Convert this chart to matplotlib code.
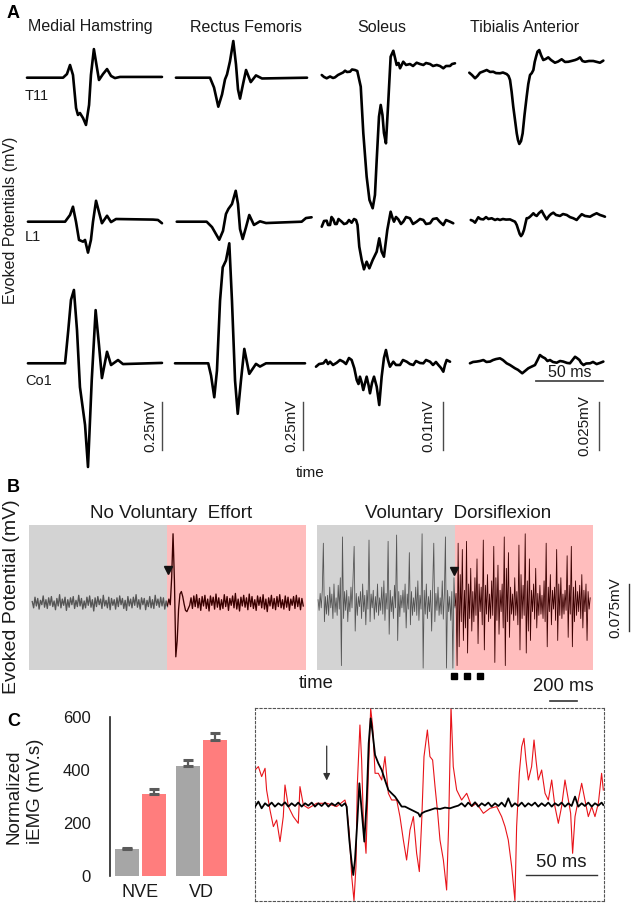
import numpy as np
import matplotlib
matplotlib.use("Agg")
import matplotlib.pyplot as plt

plt.rcParams['font.family'] = ['Liberation Sans', 'DejaVu Sans']

# ======================= DATA =======================
# ---- Panel A: evoked potentials (time in ms, amplitude in microvolts) ----
muscles = ["Medial Hamstring", "Rectus Femoris", "Soleus", "Tibialis Anterior"]
sites = ["T11", "L1", "Co1"]
scale_uv = [250, 250, 10, 25]
scale_labels = ["0.25mV", "0.25mV", "0.01mV", "0.025mV"]

mh_t11_t = [0, 26.9, 29.8, 32.1, 34.3, 36.6, 38.0, 39.5, 41.8, 44.0, 46.3, 47.7, 49.9, 52.2, 53.7, 56.7, 59.7, 62.7, 65.6, 69.4, 100.7]
mh_t11_v = [0, 0, 19, 66, 14, -158, -194, -184, -210, -246, -142, 14, 149, 51, -12, 19, 45, 9, -2, 4, 4]
mh_l1_t = [0.7, 28.4, 32.1, 34.3, 36.6, 38.8, 41.8, 43.3, 45.5, 47.7, 49.2, 51.5, 53.7, 55.9, 59.7, 62.7, 66.4, 94.0, 97.7, 100.7]
mh_l1_v = [0, 0, 35, 78, -2, -95, -104, -95, -161, -95, -2, 109, 50, -8, 31, -2, 14, 11, 9, -8]
mh_co1_t = [0.7, 28.4, 30.8, 32.8, 35.0, 37.3, 39.5, 43.3, 45.5, 48.3, 51.2, 53.7, 55.9, 59.7, 62.7, 67.9, 71.6, 100.7]
mh_co1_v = [0, 0, 173, 330, 382, 173, -124, -321, -540, -87, 277, 95, -77, 60, -9, 17, -4, 2]

rf_t11_t = [0.7, 26.1, 29.1, 32.3, 35.1, 37.3, 38.8, 41.0, 43.5, 45.5, 47.0, 48.5, 50.7, 53.0, 56.5, 60.4, 64.9, 98.5]
rf_t11_v = [0, 0, -51, -151, -87, -9, 17, 85, 191, 69, -61, -109, -35, 40, -23, 12, -4, 0]
rf_l1_t = [1.3, 23.6, 27.6, 33.0, 35.8, 38.0, 39.8, 42.5, 45.3, 47.0, 48.5, 50.5, 53.0, 55.4, 58.9, 63.4, 67.9, 94.5, 97.7, 101.9]
rf_l1_v = [0, 0, -28, -94, -48, 40, 66, 92, 161, 92, -38, -90, -28, 35, -17, 2, -7, 0, 19, 23]
rf_co1_t = [0, 24.8, 26.9, 29.3, 31.3, 33.6, 35.6, 38.0, 40.5, 42.5, 44.8, 46.8, 49.2, 51.7, 55.4, 60.4, 63.4, 67.9, 97.0]
rf_co1_v = [0, 0, -64, -177, -38, 326, 500, 535, 625, 326, -90, -263, -90, 75, -55, -3, -17, 0, 0]

sol_t11_t = [1.3, 3.0, 5.0, 7.5, 9.7, 11.2, 13.4, 14.9, 17.2, 18.7, 20.1, 22.4, 23.9, 26.1, 27.8, 30.4, 32.3, 34.8, 36.9, 39.3,
             41.0, 42.3, 44.0, 45.3, 46.6, 47.7, 49.2, 51.0, 52.7, 54.7, 56.0, 57.2, 58.6, 59.7, 62.1, 64.2, 67.1, 69.4, 72.1, 74.6,
             77.1, 79.1, 82.1, 84.3, 87.1, 89.5, 92.0, 94.0, 97.0, 98.5, 100.7]
sol_t11_v = [0.56, 0.15, -0.12, 0.25, -0.06, 0.08, 0.56, 0.77, 1.08, 1.46, 1.19, 1.25, 1.71, 1.60, 1.40, -1.87, -11.52, -20.62, -25.47, -27.20,
             -24.43, -17.14, -8.12, -5.68, -7.77, -11.52, -13.67, -4.65, 4.37, 5.62, 4.10, 2.65, 3.06, 1.96, 3.33, 2.65, 2.85, 2.44, 3.12, 2.85,
             2.65, 3.06, 2.85, 2.44, 2.65, 2.44, 1.96, 2.44, 2.44, 2.85, 3.0]
sol_l1_t = [1.3, 3.0, 5.0, 6.0, 7.5, 8.6, 9.9, 11.2, 12.5, 13.8, 16.2, 17.9, 19.9, 21.6, 23.6, 25.4, 26.9, 28.0, 29.3, 31.1,
            32.8, 34.8, 36.8, 39.3, 42.3, 44.2, 46.0, 47.7, 50.2, 52.7, 54.1, 55.2, 56.7, 58.4, 60.4, 62.1, 64.2, 67.1, 69.4, 72.1,
            74.6, 77.1, 79.1, 82.1, 84.3, 87.1, 89.5, 92.0, 94.0, 97.0, 99.4]
sol_l1_v = [-1.04, 0.15, 0.21, -0.69, -0.69, 0.98, 0.50, -0.48, -0.48, 0.56, 0, -0.48, -0.33, 0.35, -0.21, 0.56, 0.35, -0.69, -5.21, -7.98,
            -9.92, -8.33, -9.71, -7.98, -6.25, -3.46, -6.25, -7.29, -1.73, 2.08, 0.77, 0, 0.98, 0.50, -0.48, 0, 0.98, 0.71, -0.48, 0,
            0.56, 0.35, -0.48, -0.33, 0.56, 0.71, -0.06, -0.69, 0.35, 0, -0.33]
sol_co1_t = [-3.0, -0.7, 2.5, 4.5, 6.0, 7.5, 9.7, 12.5, 14.9, 17.4, 19.4, 21.6, 23.6, 25.6, 27.4, 28.7, 29.8, 31.0, 32.3, 34.8,
             36.2, 37.3, 38.8, 40.3, 42.3, 44.2, 46.0, 47.7, 49.2, 50.7, 52.2, 54.7, 56.7, 59.7, 61.9, 64.7, 67.1, 69.6, 71.6, 74.6,
             77.1, 79.1, 82.1, 84.3, 86.5, 88.3, 90.3, 92.0, 93.2, 94.5, 97.0]
sol_co1_v = [-0.71, -0.15, 0, 0.69, -0.15, 0.33, -0.35, 0.12, 0.69, 0.33, -0.15, 1.10, 0.69, -1.04, -3.48, -4.31, -2.79, -3.90, -5.56, -2.79,
             -4.52, -6.25, -4.10, -2.79, -4.87, -8.69, -2.79, 1.10, 2.77, 0.69, -0.71, 0.33, -0.35, -0.35, 0.69, 0.33, -0.15, -0.35, 0.48, 0.06,
             0, 0.69, 0.33, -0.35, 0.27, -0.35, -0.98, -1.75, -0.35, 0.69, 0.33]

ta_t11_t = [3.2, 5.2, 7.5, 9.3, 11.2, 13.4, 16.2, 18.7, 21.1, 23.1, 26.1, 28.3, 31.1, 32.5, 33.6, 34.8, 36.0, 37.3, 38.6, 39.5,
            40.5, 41.8, 43.0, 44.4, 46.0, 47.2, 48.5, 49.8, 51.0, 52.0, 53.0, 54.1, 55.4, 56.7, 58.4, 60.1, 62.1, 64.2, 67.1, 69.4,
            72.1, 74.6, 77.1, 79.4, 82.1, 83.9, 85.8, 87.6, 89.5, 92.5, 95.7, 98.5, 100.7, 103.2]
ta_t11_v = [2.6, 1.4, -0.3, 0.9, 2.6, 3.2, 4.0, 3.0, 3.1, 2.4, 2.3, 2.7, 1.9, 0.9, -1.2, -7.4, -15.1, -22.0, -29.0, -32.4,
            -34.5, -33.0, -29.0, -19.4, -9.9, -3.3, 1.4, 2.4, 4.0, 8.2, 10.9, 13.6, 14.4, 11.8, 9.2, 9.7, 10.6, 9.2, 7.8, 8.4,
            9.6, 8.2, 8.3, 8.7, 9.2, 9.7, 10.6, 8.7, 8.3, 8.7, 8.7, 8.2, 7.8, 8.9]
ta_l1_t = [4.3, 6.0, 7.5, 8.7, 9.9, 11.6, 13.7, 15.7, 17.5, 19.9, 22.4, 24.2, 26.1, 28.3, 30.6, 33.6, 35.4, 37.3, 38.6, 39.8,
           40.8, 41.8, 42.9, 44.0, 45.0, 46.0, 47.2, 48.5, 49.8, 51.0, 52.2, 53.5, 55.2, 57.2, 58.9, 60.9, 62.7, 64.2, 65.9, 67.9,
           70.9, 73.1, 75.9, 78.3, 80.8, 83.3, 85.1, 87.1, 89.5, 93.3, 95.5, 98.2, 100.7, 102.9, 104.4]
ta_l1_v = [0.9, 0.4, -0.5, 0.9, 2.3, 1.4, 1.2, 2.4, 1.4, 1.8, 0.9, 1.4, 0.9, 1.4, 1.1, 1.2, 0.6, 0, -1.7, -4.3,
           -6.4, -7.5, -6.4, -4.3, -1.2, 1.8, 1.9, 2.6, 3.5, 4.4, 3.5, 3.0, 4.5, 5.7, 3.5, 1.2, 3.0, 4.0, 4.7, 3.5,
           3.0, 4.0, 3.5, 2.4, 1.8, 0.9, 2.4, 3.9, 3.0, 2.6, 3.5, 4.4, 3.5, 3.0, 2.6]
ta_co1_t = [3.7, 6.0, 8.7, 11.2, 13.7, 16.0, 18.7, 20.9, 23.1, 26.1, 28.3, 31.1, 33.6, 37.3, 39.5, 42.7, 44.8, 47.2, 49.2, 52.2,
            54.1, 55.9, 57.8, 59.7, 61.5, 63.4, 65.6, 68.4, 70.9, 73.3, 76.1, 78.3, 80.2, 82.1, 83.6, 85.4, 86.6, 88.4, 90.4, 93.3,
            95.5, 98.2, 100.7, 103.2]
ta_co1_v = [0, 0.7, 0.9, 1.2, 1.7, 0.7, 0.9, 1.7, 2.2, 2.6, 1.7, 0, -0.9, -2.6, -3.4, -5.2, -4.0, -2.6, -1.9, -0.9,
            1.7, 4.3, 3.3, 2.6, 1.2, 1.7, 0.7, 0.3, 1.2, 0.9, 0.2, 0, 1.7, 3.4, 2.7, 1.7, 0.2, -0.9, -0.1, 0,
            0.7, -0.4, 0.2, 0.9]

# ---- Panel B: continuous EMG (microvolts), 1024 ms before / after stimulation ----
conditions = ["No Voluntary  Effort", "Voluntary  Dorsiflexion"]
segment_ms = 1024
nve_pre = [2, -8, 9, -5, 7, -10, 4, -3, 11, -7, 5, -9, 8, -4, 10, -6, 3, -11, 7, -5, 13, -8, 6, -4, 9, -12, 5, -7, 8, -3,
           10, -9, 4, -6, 12, -5, 7, -10, 3, -8, 9, -4, 11, -7, 5, -13, 8, -6, 10, -3, 6, -9, 12, -5, 4, -8, 9, -11, 7, -4,
           5, -10, 8, -6, 11, -3, 7, -9, 4, -12, 10, -5, 6, -8, 9, -4, 13, -7, 5, -10, 8, -3, 7, -11, 4, -6, 10, -8, 5, -9,
           12, -4, 6, -7, 9, -5, 8, -10, 3, -6]
nve_post = [-4, 6, -3, 40, 110, 35, -86, -60, -10, 14, 18, 10, -2, -12, -14, -9, -4, 8, -9, 11, -6, 13, -8, 7, -12, 10, -5, 12, -9, 6,
            -13, 11, -4, 9, -10, 14, -7, 8, -11, 5, -9, 13, -6, 10, -12, 7, -4, 11, -8, 15, -10, 6, -13, 9, -5, 12, -7, 8, -11, 14,
            -6, 10, -9, 5, -12, 11, -4, 9, -8, 13, -10, 6, -14, 8, -5, 12, -9, 7, -11, 10, -6, 13, -8, 5, -10, 11, -7, 9, -12, 6,
            -4, 10, -9, 12, -6, 8, -11, 7, -5]
vd_pre = [5, -12, 15, -8, 20, 95, -30, 10, -18, 12, -20, 25, -8, 14, -25, 30, -15, 8, -20, 28,
          -10, 40, -100, 105, -25, 18, -12, 20, -30, 10, -14, 25, -8, 40, 90, -45, 15, -20, 10, -6,
          18, -25, 30, -14, 12, -35, 20, -10, 100, -30, 14, -8, 20, -26, 10, -15, 30, -20, 8, -12,
          25, -18, 35, -28, 15, -10, 98, -50, 20, -14, 10, -25, 28, -8, 108, -60, 18, -22, 12, -8,
          20, -15, 30, -40, 14, -10, 80, -35, 18, -20, 8, -14, 25, -20, 35, -28, 12, -10, 110, -104,
          20, -18, 30, -25, 10, -14, 20, -45, 28, 95, -30, 15, -12, 25, -20, 8, -18, 35, -26, 14,
          105, -104, 20, -14, 10, -28, 18, -104, 40, -8]
vd_post = [-5, 15, -100, 95, -70, 45, -30, 85, -60, 20, -40, 98, -80, 30, -25, 55, -45, 18, -30, 40,
           -20, 70, -65, 30, -14, 25, -35, 100, -75, 28, -18, 45, -30, 14, -25, 35, -20, 90, -95, 40,
           -28, 60, -50, 20, -14, 30, -40, 105, -100, 55, -30, 80, -55, 25, -18, 14, -28, 40, -20, 18,
           -35, 92, -75, 45, -25, 28, -20, 110, -80, 35, -45, 70, -60, 20, -14, 30, -26, 55, -40, 15,
           -20, 28, -18, 12, -25, 35, -30, 95, -70, 25, -14, 45, -35, 20, -10, 25, -28, 85, -60, 30,
           -20, 40, -25, 14, -18, 20, -12, 75, -55, 28, -18, 90, -70, 25, -30, 35, -20, 18, -14, 28,
           -25, 45, -40, 20, -14, 30, -60, 18, -10, 8]
window_starts_ms = [1013, 1112, 1210]

# ---- Panel C: normalized iEMG bars ----
groups = ["NVE", "VD"]
pre_iemg = [100, 413]
post_iemg = [309, 512]
pre_err = [6, 25]
post_err = [18, 28]

# ---- Panel C: overlaid responses (time ms, amplitude arbitrary units) ----
black_t = [0, 2.4, 4.7, 7.1, 9.4, 11.8, 14.1, 16.5, 18.9, 21.2, 23.6, 25.9, 28.3, 30.6, 33.0, 35.4, 37.7, 40.1, 42.4, 44.8,
           47.1, 49.5, 51.9, 54.2, 56.6, 58.9, 61.3, 63.6, 64.8, 66.7, 68.4, 69.5, 70.7, 72.4, 73.8, 75.4, 77.3, 79.0, 80.4,
           81.8, 83.2, 84.9, 87.2, 89.6, 91.9, 94.3, 96.6, 99.0, 101.4, 103.7, 106.1, 108.4, 110.8, 113.1, 115.5, 116.7, 117.9,
           120.2, 123.7, 127.3, 130.8, 134.3, 137.9, 141.4, 143.8, 146.1, 148.5, 150.8, 153.2, 155.6, 157.9, 160.3, 162.6, 165.0,
           167.3, 169.7, 172.1, 174.4, 176.8, 179.1, 181.5, 183.8, 186.2, 188.6, 190.9, 193.3, 195.6, 198.0, 200.3, 202.7, 205.1,
           207.4, 209.8, 212.1, 214.5, 216.8, 219.2, 221.6, 223.9, 226.3, 228.6, 231.0, 233.3, 235.7, 238.1, 240.4, 242.8, 245.1, 246.3]
black_v = [-2.3, 2.7, -4, 1, -1.7, 1.7, -2.3, 1, -1.3, 2, -2.3, 1, -1.7, 1.7, -2.3, 1, -1.3, 1.7, -2.3, 1,
           -1.7, 1.7, -2.3, 1, -1.3, 1.7, -1.7, 1, -2.3, -35.7, -59, -70.7, -55.7, -15.7, 21, -5.7, -37.3, 4.3, 61,
           86, 71, 49.3, 41, 34.3, 24.3, 14.3, 11, 7.7, 2.7, -2.3, -2.3, -4, -5.7, -7.3, -9, -12.3, -9,
           -7.3, -5.7, -4, -4.7, -3.3, -4, -2.3, -1.3, 1, -2.3, 1.7, -1.7, 2, -2.3, 1, -1.3, 1.7,
           -2.3, 1, -1.7, 1.7, -2.3, 6, -2.3, 1, -1.7, 1.7, -2.3, 1, -1.3, 1.7, -2.3, 1, -1.7,
           1.7, -2.3, 1, -1.3, 1.7, -2.3, 1, -1.7, 7.7, -2.3, 1, -1.7, 1.7, -2.3, 1, -1.3, 1.7, -0.7]
red_t = [0, 2.4, 4.7, 7.1, 8.2, 10.6, 13.0, 15.3, 17.7, 20.0, 21.2, 23.6, 27.1, 30.6, 31.8, 34.2, 37.7, 43.6, 50.7, 57.7,
         63.6, 64.8, 66.7, 68.4, 70.0, 71.4, 72.3, 74.2, 75.4, 76.6, 78.5, 80.1, 81.8, 83.2, 84.9, 87.2, 89.6, 91.9, 94.3, 96.6,
         100.2, 102.5, 104.9, 107.2, 109.6, 112.0, 114.3, 116.2, 117.9, 119.5, 121.9, 123.7, 125.6, 127.3, 129.2, 130.8, 133.2, 135.5, 136.9, 138.6,
         140.2, 142.6, 146.1, 149.7, 153.2, 156.7, 161.5, 166.2, 170.9, 174.4, 176.8, 179.1, 181.5, 183.8, 185.0, 186.9, 188.6, 190.2, 191.6, 193.3,
         195.6, 197.3, 198.7, 200.3, 202.7, 205.1, 207.4, 209.8, 212.1, 214.5, 216.8, 219.2, 221.6, 223.2, 224.6, 226.3, 228.6, 231.0, 233.3, 235.7,
         238.1, 240.4, 242.8, 245.1, 246.3]
red_v = [34.3, 37.7, 27.7, 36, 14.3, -5.7, -22.3, -15.7, -37.3, -12.3, 19.3, -2.3, -12.3, -19, 17.7, -0.7, -4, 1, 1, -2.3,
         4.3, -2.3, -29, -72.3, -96.3, -62.3, 17.7, 79.3, 44.3, -15.7, -49, 27.7, 96, 77.7, 31, 31, 24.3, 47.7, 11, 4.3,
         4.3, -12.3, -35.7, -55.7, -25.7, -12.3, -49, -67.3, -15.7, 47.7, 74.3, 47.7, 44.3, 17.7, -9, -35.7, -55.7, -85.7, -22.3, 97.7,
         37.7, 14.3, 4.3, 11, -2.3, 1, -9, -4, -2.3, -12.3, -22.3, -35.7, -62.3, -96.3, -22.3, 31, 57.7, 66, 44.3, 24.3,
         37.7, 64.3, 44.3, 24.3, 34.3, 11, 4.3, 24.3, -2.3, -19, -2.3, 24.3, 4.3, -9, -49, -12.3, 4.3, 21, 4.3, -12.3,
         -2.3, -12.3, 1, 31, 14.3]
stim_marker_ms = 50.7

# ======================= FIGURE =======================
W, H = 633, 906
fig = plt.figure(figsize=(W / 100, H / 100), dpi=100)


def px_rect(l, t, r, b):
    return [l / W, 1 - b / H, (r - l) / W, (b - t) / H]


def ftext(x, y, s, **kw):
    fig.text(x / W, 1 - y / H, s, **kw)


TXT = '#1a1a1a'

# ---------------- Panel A ----------------
traces = [[(mh_t11_t, mh_t11_v), (mh_l1_t, mh_l1_v), (mh_co1_t, mh_co1_v)],
          [(rf_t11_t, rf_t11_v), (rf_l1_t, rf_l1_v), (rf_co1_t, rf_co1_v)],
          [(sol_t11_t, sol_t11_v), (sol_l1_t, sol_l1_v), (sol_co1_t, sol_co1_v)],
          [(ta_t11_t, ta_t11_v), (ta_l1_t, ta_l1_v), (ta_co1_t, ta_co1_v)]]
ms_per_px = 0.746
col_x0 = [27, 175, 320, 465]
A_top, A_bot = 35, 470
row_base = [(A_bot - 77.7) / 48, (A_bot - 221.7) / 48, (A_bot - 363.3) / 48]
bar_t = [100.9, 95.7, 92.0, 99.7]
lab_off = [9.0, 8.7, 11.2, 10.4]
title_x = [90, 246, 382, 524.5]

for c in range(4):
    ax = fig.add_axes(px_rect(col_x0[c] - 10, A_top, col_x0[c] + 147, A_bot))
    ax.set_xlim(-10 * ms_per_px, 147 * ms_per_px)
    ax.set_ylim(0, (A_bot - A_top) / 48)
    ax.axis('off')
    for r in range(3):
        t, v = traces[c][r]
        n = min(len(t), len(v))
        ax.plot(t[:n], np.array(v[:n]) / scale_uv[c] + row_base[r], color='black',
                lw=1.9, solid_joinstyle='round', solid_capstyle='round', clip_on=False)
    ybar0 = (A_bot - 450) / 48
    ax.plot([bar_t[c], bar_t[c]], [ybar0, ybar0 + 1], color='#4a4a4a', lw=1.0)
    ax.text(bar_t[c] - lab_off[c], ybar0 + 0.5, scale_labels[c], rotation=90,
            ha='center', va='center', fontsize=11, color=TXT)
    ftext(title_x[c], 27, muscles[c], ha='center', va='center', fontsize=11.5, color=TXT)
    if c == 3:
        yb = (A_bot - 380.7) / 48
        ax.plot([53.2, 103.2], [yb, yb], color='#4a4a4a', lw=1.3, clip_on=False)
        ax.text(78.2, (A_bot - 372.5) / 48, "50 ms", ha='center', va='center', fontsize=11.5, color=TXT)

for s, y in zip(sites, [96.5, 237, 381]):
    ftext(25, y, s, ha='left', va='center', fontsize=10.5, color=TXT)

ftext(7, 13, "A", ha='left', va='center', fontsize=13, fontweight='bold')
ftext(11, 220, "Evoked Potentials (mV)", rotation=90, ha='center', va='center', fontsize=11.5, color=TXT)
ftext(310, 473, "time", ha='center', va='center', fontsize=11, color=TXT)

# ---------------- Panel B ----------------
B_top, B_bot = 525, 670
B_ylim = (-107, 124)
b_specs = [((29.3, 305.7), nve_pre, nve_post, 22, 2030, 1025, 53, 0.95),
           ((316.7, 593.3), vd_pre, vd_post, 10, 2025, 1017, 51, 0.6)]
axes_b = []
for (l, r), pre, post, t0, t1, stim, arr_v, lw in b_specs:
    ax = fig.add_axes(px_rect(l, B_top, r, B_bot))
    ax.set_xlim(0, 2 * segment_ms)
    ax.set_ylim(*B_ylim)
    ax.axvspan(0, segment_ms, color='#d3d3d3', lw=0)
    ax.axvspan(segment_ms, 2 * segment_ms, color='#ffbdbd', lw=0)
    ax.plot(np.linspace(t0, segment_ms, len(pre)), pre, color='#555555', lw=lw)
    ax.plot(np.linspace(segment_ms, t1, len(post)), post, color='#3a0000', lw=lw)
    ax.plot([stim], [arr_v], marker='v', color='#111111', ms=5.5, ls='none')
    ax.axis('off')
    axes_b.append(ax)

for name, tx in zip(conditions, [171, 458]):
    ftext(tx, 513, name, ha='center', va='center', fontsize=13.5, color=TXT)

axr = axes_b[1]
axr.plot(window_starts_ms, [-0.039] * len(window_starts_ms), 's', color='black', ms=4.3,
         transform=axr.get_xaxis_transform(), clip_on=False)
axr.plot([1727, 1927], [-0.212, -0.212], color='#333333', lw=1.2,
         transform=axr.get_xaxis_transform(), clip_on=False)
axr.text(1827, -0.115, "200 ms", ha='center', va='center', fontsize=13.3, color=TXT,
         transform=axr.get_xaxis_transform())
axr.plot([2309, 2309], [-45, 30], color='#333333', lw=1.0, clip_on=False)
axr.text(2210, -8, "0.075mV", rotation=90, ha='center', va='center', fontsize=11, color=TXT)

ftext(7, 487, "B", ha='left', va='center', fontsize=13, fontweight='bold')
ftext(12, 597, "Evoked Potential (mV)", rotation=90, ha='center', va='center', fontsize=14, color=TXT)
ftext(315.7, 683, "time", ha='center', va='center', fontsize=13.3, color=TXT)

# ---------------- Panel C (bars) ----------------
axc = fig.add_axes(px_rect(110, 716.7, 232, 876))
xg = np.arange(len(groups))
bw, off = 0.39, 0.22
axc.bar(xg - off, pre_iemg, bw, color='#a6a6a6', lw=0,
        yerr=[[0] * len(pre_err), pre_err], ecolor='#5a5a5a',
        error_kw=dict(elinewidth=1.6, capsize=3.5, capthick=2.2))
axc.bar(xg + off, post_iemg, bw, color='#ff7d7d', lw=0,
        yerr=[[0] * len(post_err), post_err], ecolor='#5a5a5a',
        error_kw=dict(elinewidth=1.6, capsize=3.5, capthick=2.2))
axc.set_xlim(-0.5, 1.5)
axc.set_ylim(0, 600)
for sp in ['top', 'right', 'bottom']:
    axc.spines[sp].set_visible(False)
axc.spines['left'].set_linewidth(1.2)
axc.spines['left'].set_color('#222222')
axc.set_yticks([0, 200, 400, 600])
axc.set_yticks([0, 600], minor=True)
axc.tick_params(axis='y', which='major', length=0, pad=14, labelsize=12, labelcolor=TXT)
axc.tick_params(axis='y', which='minor', length=4.5, width=1.2, direction='in', color='#222222')
axc.set_xticks(xg)
axc.set_xticklabels(groups)
axc.tick_params(axis='x', length=0, pad=6, labelsize=13, labelcolor=TXT)
axc.patch.set_visible(False)

ftext(7, 722, "C", ha='left', va='center', fontsize=13, fontweight='bold')
ftext(14, 797, "Normalized", rotation=90, ha='center', va='center', fontsize=13.5, color=TXT)
ftext(35, 791, "iEMG (mV.s)", rotation=90, ha='center', va='center', fontsize=13.5, color=TXT)

# ---------------- Panel C (overlay) ----------------
axo = fig.add_axes(px_rect(255, 707.7, 604.3, 900.7))
axo.set_xlim(0, 247)
axo.set_ylim(-96.4, 96.6)
axo.plot(black_t, black_v, color='black', lw=1.3, zorder=3)
axo.plot(red_t, red_v, color='#e8141a', lw=0.8, zorder=2)
axo.annotate("", xy=(stim_marker_ms, 21), xytext=(stim_marker_ms, 61),
             arrowprops=dict(arrowstyle='-|>', color='#333333', lw=0.9, mutation_scale=10))
axo.plot([191.6, 241.6], [-70.7, -70.7], color='#333333', lw=1.0)
axo.text(216.6, -58, "50 ms", ha='center', va='center', fontsize=13.3, color=TXT)
axo.set_xticks([])
axo.set_yticks([])
for sp in axo.spines.values():
    sp.set_linestyle((0, (2, 2)))
    sp.set_linewidth(0.8)
    sp.set_color('#555555')

fig.savefig("out.png", dpi=100)
